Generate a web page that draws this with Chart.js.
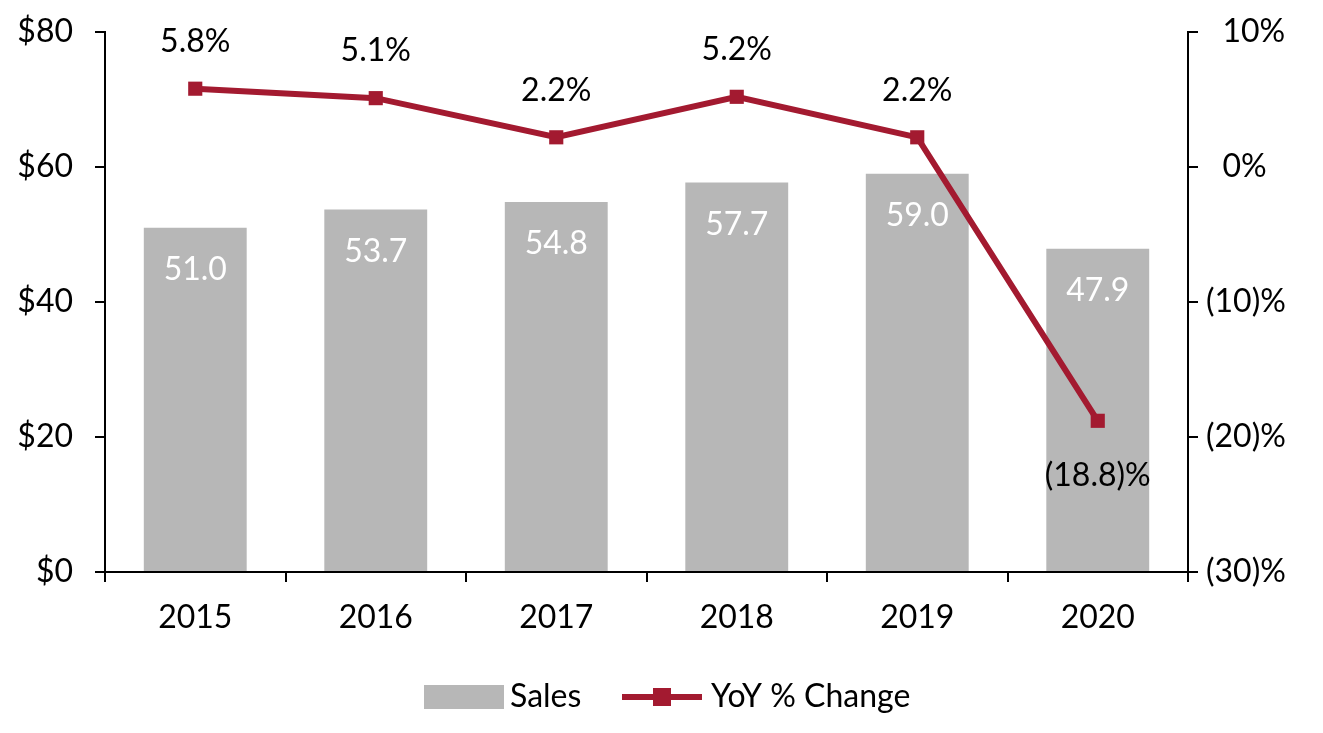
<!DOCTYPE html>
<html>
<head>
<meta charset="utf-8">
<script src="https://cdn.jsdelivr.net/npm/chart.js@4"></script>
<style>
  html, body { margin: 0; padding: 0; background: #fff; }
  #wrap { width: 1323px; height: 733px; }
</style>
</head>
<body>
<div id="wrap"><canvas id="chart" width="1323" height="733"></canvas></div>
<script>
/* data */
const years = ["2015", "2016", "2017", "2018", "2019", "2020"];
const sales = [51.0, 53.7, 54.8, 57.7, 59.0, 47.9];
const yoy = [5.8, 5.1, 2.2, 5.2, 2.2, -18.8];
const leftTicks = [0, 20, 40, 60, 80];
const rightTicks = [-30, -20, -10, 0, 10];

const BAR = "#b7b7b7";
const RED = "#a31a30";
const FONT = "Lato, 'Open Sans', sans-serif";
const FS = 32;

const fmtPct = (v) => (v < 0 ? "(" + Math.abs(v).toFixed(1) + ")%" : v.toFixed(1) + "%");
// positive axis labels are indented like the excel "_(" format
const fmtAxisPct = (v) => (v < 0 ? "(" + Math.abs(v) + ")%" : "  " + v + "%");

// value labels for bars and line points
const labelPlugin = {
  id: "labels",
  afterDatasetsDraw(chart) {
    const ctx = chart.ctx;
    ctx.save();
    ctx.font = FS + "px " + FONT;
    ctx.textAlign = "center";
    ctx.textBaseline = "middle";
    chart.getDatasetMeta(0).data.forEach((el, i) => {
      ctx.fillStyle = "#fff";
      ctx.fillText(sales[i].toFixed(1), el.x, el.y + 42);
    });
    chart.getDatasetMeta(1).data.forEach((el, i) => {
      ctx.fillStyle = "#000";
      const dy = yoy[i] < 0 ? 55 : -47;
      ctx.fillText(fmtPct(yoy[i]), el.x, el.y + dy);
    });
    ctx.restore();
  }
};

// bottom legend: grey box + line with square marker
const legendPlugin = {
  id: "customLegend",
  afterDraw(chart) {
    const ctx = chart.ctx;
    const y = 697;
    ctx.save();
    ctx.font = FS + "px " + FONT;
    ctx.textBaseline = "middle";
    ctx.textAlign = "left";
    ctx.fillStyle = BAR;
    ctx.fillRect(424, y - 12, 80, 24);
    ctx.fillStyle = "#000";
    ctx.fillText("Sales", 510, y);
    ctx.strokeStyle = RED;
    ctx.lineWidth = 6;
    ctx.beginPath();
    ctx.moveTo(622, y);
    ctx.lineTo(702, y);
    ctx.stroke();
    ctx.fillStyle = RED;
    ctx.fillRect(653, y - 9, 18, 18);
    ctx.fillStyle = "#000";
    ctx.fillText("YoY % Change", 711, y);
    ctx.restore();
  }
};

const noVPad = (w) => (s) => { s.width = w; s.paddingTop = 0; s.paddingBottom = 0; };

new Chart(document.getElementById("chart"), {
  data: {
    labels: years,
    datasets: [
      {
        type: "bar",
        label: "Sales",
        data: sales,
        backgroundColor: BAR,
        yAxisID: "y",
        barPercentage: 0.57,
        categoryPercentage: 1,
        order: 2
      },
      {
        type: "line",
        label: "YoY % Change",
        data: yoy,
        borderColor: RED,
        backgroundColor: RED,
        borderWidth: 6,
        pointStyle: "rect",
        pointRadius: 10,
        pointBorderWidth: 0,
        tension: 0,
        yAxisID: "y1",
        order: 1
      }
    ]
  },
  options: {
    responsive: false,
    animation: false,
    devicePixelRatio: 1,
    layout: { padding: { top: 32, left: 0, right: 0, bottom: 0 } },
    plugins: { legend: { display: false }, tooltip: { enabled: false } },
    scales: {
      x: {
        grid: { drawOnChartArea: false, offset: true, color: "#000", tickLength: 10, lineWidth: 2 },
        border: { color: "#000", width: 2 },
        ticks: { color: "#000", font: { family: FONT, size: FS }, padding: 16 },
        afterFit: (s) => { s.height = 161; }
      },
      y: {
        position: "left",
        min: 0,
        max: 80,
        afterBuildTicks: (s) => { s.ticks = leftTicks.map((v) => ({ value: v })); },
        grid: { drawOnChartArea: false, color: "#000", tickLength: 10, lineWidth: 2 },
        border: { color: "#000", width: 2 },
        ticks: { color: "#000", font: { family: FONT, size: FS }, padding: 22, callback: (v) => "$" + v },
        afterFit: noVPad(105)
      },
      y1: {
        position: "right",
        min: -30,
        max: 10,
        afterBuildTicks: (s) => { s.ticks = rightTicks.map((v) => ({ value: v })); },
        grid: { drawOnChartArea: false, color: "#000", tickLength: 10, lineWidth: 2 },
        border: { color: "#000", width: 2 },
        ticks: { color: "#000", font: { family: FONT, size: FS }, padding: 8, callback: fmtAxisPct },
        afterFit: noVPad(135)
      }
    }
  },
  plugins: [labelPlugin, legendPlugin]
});
</script>
</body>
</html>
